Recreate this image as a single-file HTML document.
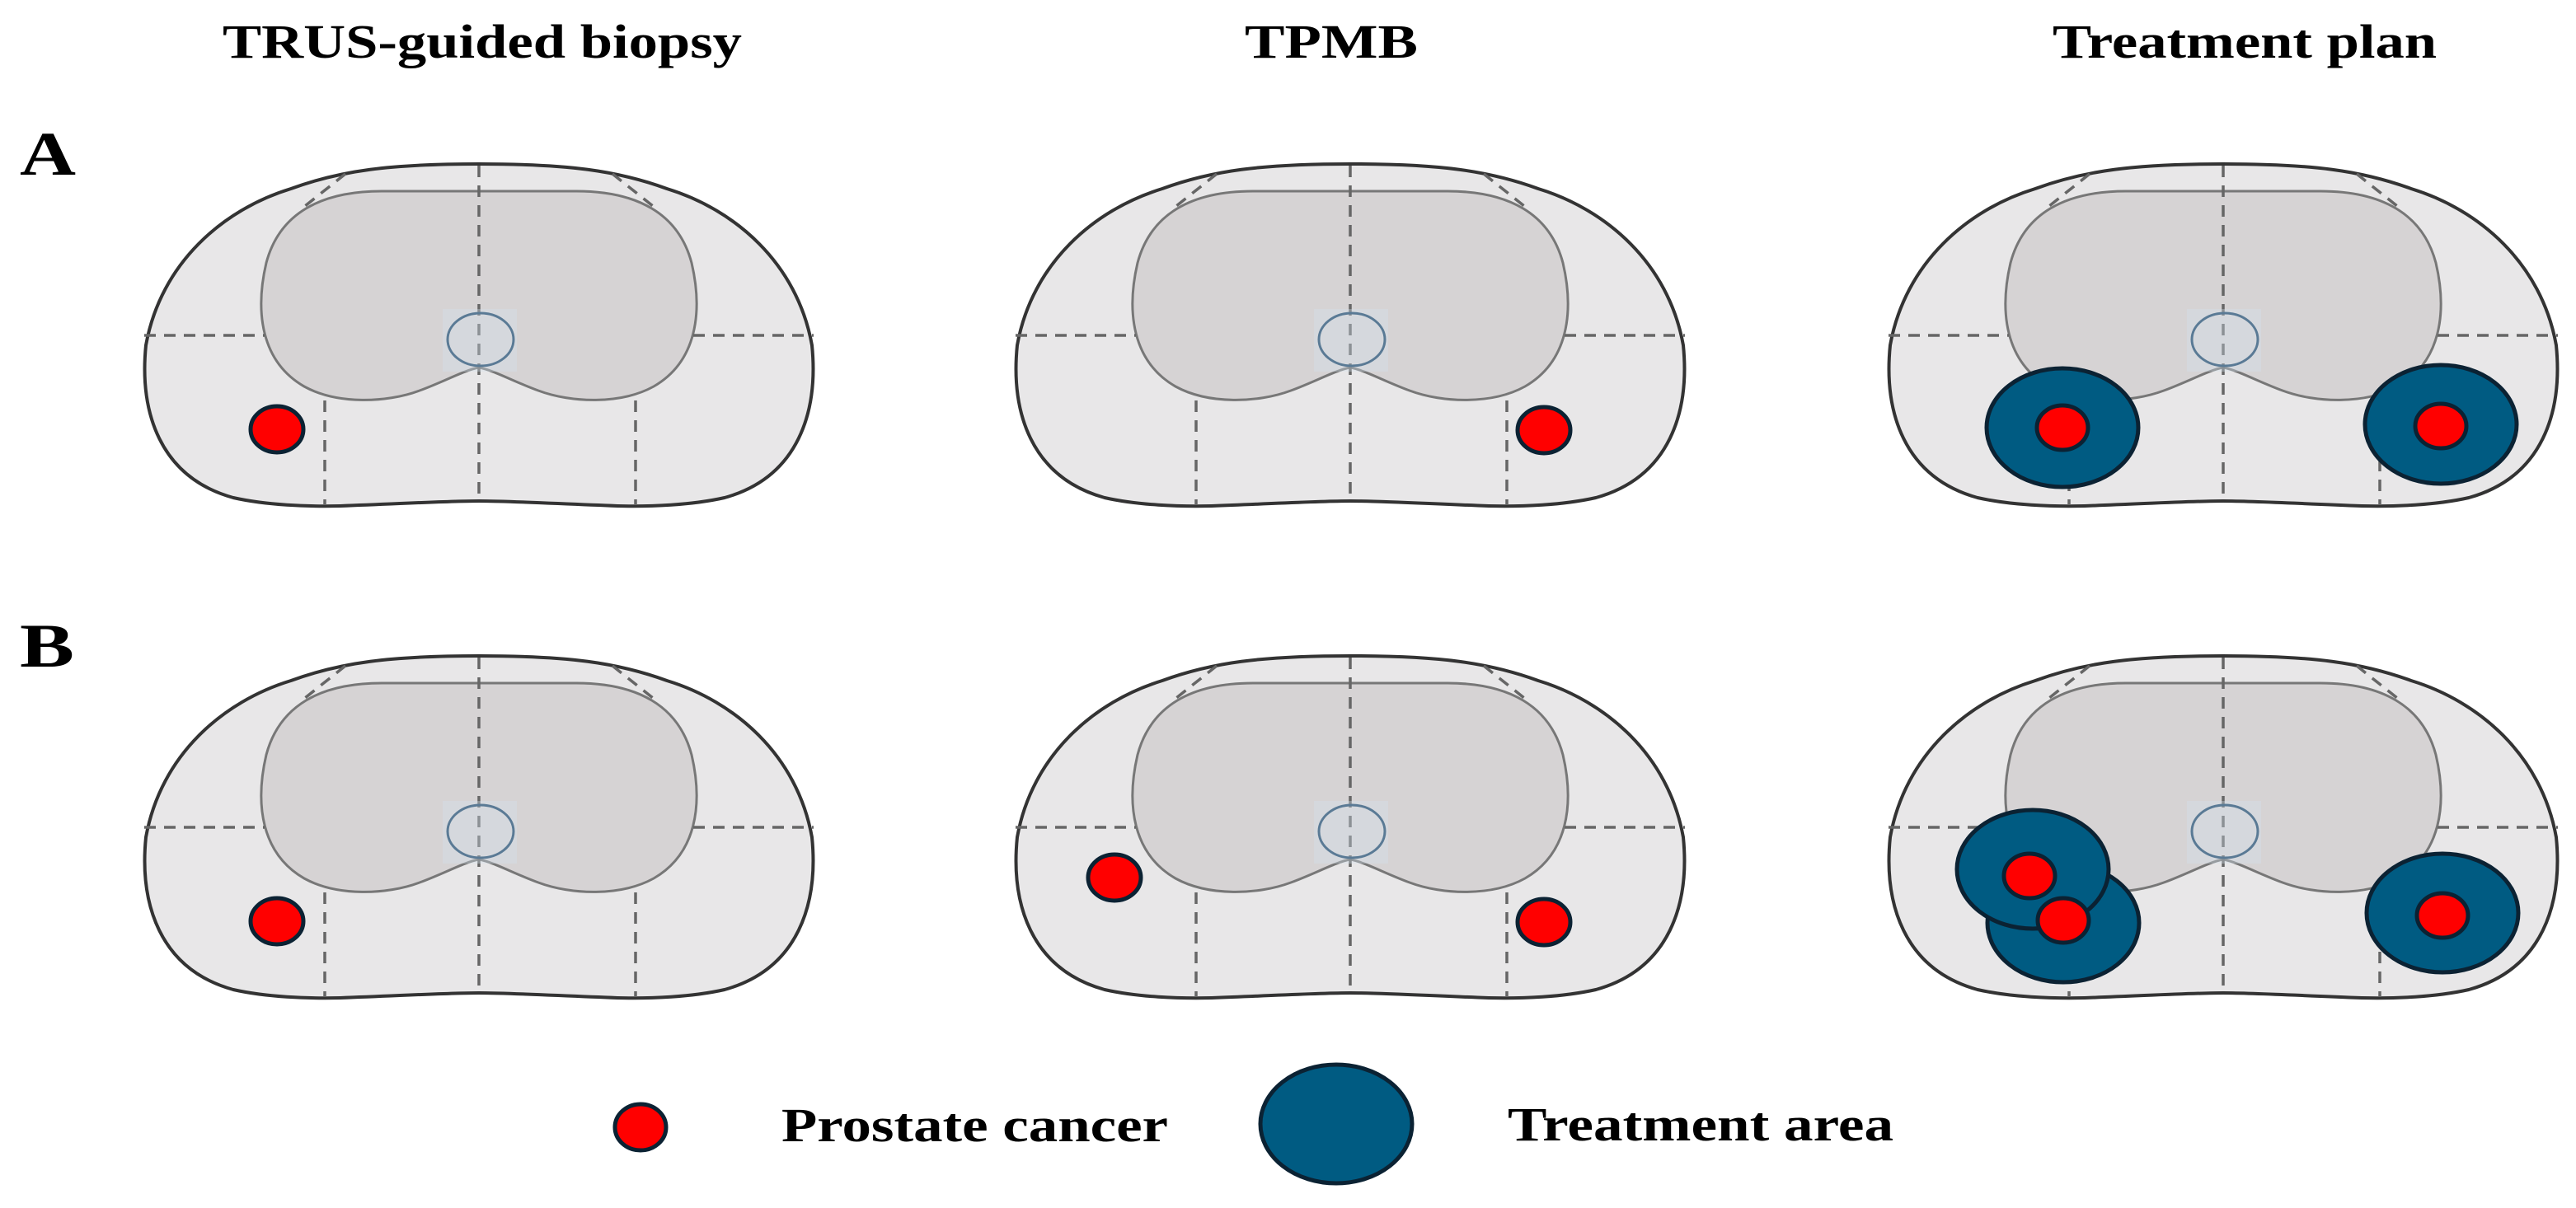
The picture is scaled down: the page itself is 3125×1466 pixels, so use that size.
<!DOCTYPE html>
<html><head><meta charset="utf-8"><style>
html,body{margin:0;padding:0;background:#fff;}
svg{display:block;}
text{font-family:"Liberation Serif",serif;font-weight:bold;fill:#000;}
</style></head><body>
<svg width="3125" height="1466" viewBox="0 0 3125 1466" xmlns="http://www.w3.org/2000/svg">
<defs>
<g id="base">
  <path d="M410,0 C518,0 578,8 638,30 C720,55 796,120 814,220 C822,300 798,380 708,405 C668,414 618,416 578,415 C498,412 448,409 410,409 C372,409 322,412 242,415 C202,416 152,414 112,405 C22,380 -2,300 6,220 C24,120 100,55 182,30 C242,8 302,0 410,0 Z" fill="#e8e7e8" stroke="#333" stroke-width="4"/>
  <path d="M292,33 L528,33 C602,33 652,60 668,120 C682,180 674,240 622,270 C582,292 522,290 482,275 C452,264 427,250 410,247 C393,250 368,264 338,275 C298,290 238,292 198,270 C146,240 138,180 152,120 C168,60 218,33 292,33 Z" fill="#d6d3d4" stroke="#777" stroke-width="3"/>
  <g stroke="#666" stroke-width="3.5" stroke-dasharray="14 10" fill="none">
    <line x1="410" y1="2" x2="410" y2="409"/>
    <line x1="4" y1="208" x2="150" y2="208"/>
    <line x1="670" y1="208" x2="816" y2="208"/>
    <line x1="223" y1="287" x2="223" y2="414"/>
    <line x1="600" y1="287" x2="600" y2="414"/>
    <line x1="248" y1="12" x2="194" y2="55"/>
    <line x1="572" y1="12" x2="626" y2="55"/>
  </g>
  <rect x="366" y="176" width="90" height="76" fill="#d3e2ee" opacity="0.35" stroke="none"/>
  <ellipse cx="412" cy="213" rx="40" ry="32" fill="none" stroke="#5a7a95" stroke-width="3"/>
</g>
</defs>

<text x="585" y="70" font-size="58" text-anchor="middle" textLength="630" lengthAdjust="spacingAndGlyphs">TRUS-guided biopsy</text>
<text x="1615" y="70" font-size="58" text-anchor="middle" textLength="210" lengthAdjust="spacingAndGlyphs">TPMB</text>
<text x="2723" y="70" font-size="58" text-anchor="middle" textLength="466" lengthAdjust="spacingAndGlyphs">Treatment plan</text>
<text x="24" y="212" font-size="75" textLength="68" lengthAdjust="spacingAndGlyphs">A</text>
<text x="24" y="809" font-size="75" textLength="66" lengthAdjust="spacingAndGlyphs">B</text>

<g transform="translate(171,199)"><use href="#base"/></g>
<g transform="translate(1228,199)"><use href="#base"/></g>
<g transform="translate(2287,199)"><use href="#base"/></g>
<g transform="translate(171,796)"><use href="#base"/></g>
<g transform="translate(1228,796)"><use href="#base"/></g>
<g transform="translate(2287,796)"><use href="#base"/></g>

<g stroke="#0b2233" stroke-width="5">
<g transform="translate(171,199)">
  <ellipse cx="165" cy="322" rx="32" ry="28" fill="#ff0000"/>
</g>
<g transform="translate(1228,199)">
  <ellipse cx="645" cy="323" rx="32" ry="28" fill="#ff0000"/>
</g>
<g transform="translate(2287,199)">
  <ellipse cx="215" cy="320" rx="92" ry="72" fill="#005b82"/>
  <ellipse cx="215" cy="320" rx="31" ry="27" fill="#ff0000"/>
  <ellipse cx="674" cy="316" rx="92" ry="72" fill="#005b82"/>
  <ellipse cx="674" cy="318" rx="31" ry="27" fill="#ff0000"/>
</g>
<g transform="translate(171,796)">
  <ellipse cx="165" cy="322" rx="32" ry="28" fill="#ff0000"/>
</g>
<g transform="translate(1228,796)">
  <ellipse cx="124" cy="269" rx="32" ry="28" fill="#ff0000"/>
  <ellipse cx="645" cy="323" rx="32" ry="28" fill="#ff0000"/>
</g>
<g transform="translate(2287,796)">
  <ellipse cx="216" cy="324" rx="92" ry="72" fill="#005b82"/>
  <ellipse cx="179" cy="259" rx="92" ry="72" fill="#005b82"/>
  <ellipse cx="175" cy="267" rx="31" ry="27" fill="#ff0000"/>
  <ellipse cx="216" cy="321" rx="31" ry="27" fill="#ff0000"/>
  <ellipse cx="676" cy="312" rx="92" ry="72" fill="#005b82"/>
  <ellipse cx="676" cy="315" rx="31" ry="27" fill="#ff0000"/>
</g>
<ellipse cx="777" cy="1368" rx="31" ry="28" fill="#ff0000"/>
<ellipse cx="1621" cy="1364" rx="92" ry="72" fill="#005b82"/>
</g>
<text x="948" y="1385" font-size="58" textLength="469" lengthAdjust="spacingAndGlyphs">Prostate cancer</text>
<text x="1829" y="1384" font-size="58" textLength="468" lengthAdjust="spacingAndGlyphs">Treatment area</text>
</svg>
</body></html>
